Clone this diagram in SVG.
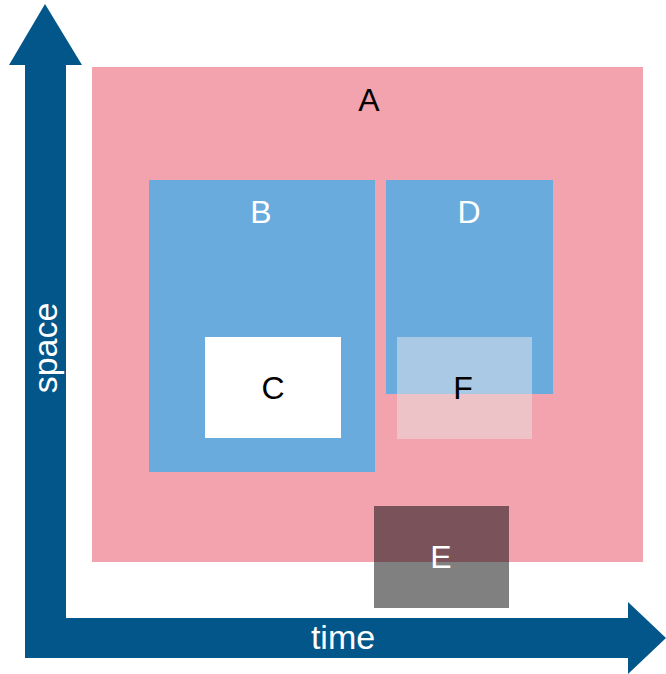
<svg xmlns="http://www.w3.org/2000/svg" width="666" height="674" viewBox="0 0 666 674">
  <style>
    .lbl { font-family: "Liberation Sans", Arial, sans-serif; font-size: 32px; text-anchor: middle; dominant-baseline: central; }
    .ax { font-size: 34px; }
    .dark { fill: #000000; }
    .light { fill: #ffffff; }
    .axis { fill: #02568a; }
  </style>
  <rect width="666" height="674" fill="#ffffff"/>

  <g id="A">
    <rect x="92" y="67" width="551" height="495" fill="#f2a3ae"/>
    <text class="lbl dark" x="369" y="100">A</text>
  </g>

  <g id="B">
    <rect x="149" y="180" width="226" height="292" fill="#6aabdd"/>
    <text class="lbl light" x="261" y="212">B</text>
  </g>

  <g id="C">
    <rect x="205" y="337" width="136" height="101" fill="#ffffff"/>
    <text class="lbl dark" x="273" y="388">C</text>
  </g>

  <g id="D">
    <rect x="386" y="180" width="167" height="214" fill="#6aabdd"/>
    <text class="lbl light" x="469" y="212">D</text>
  </g>

  <g id="F">
    <rect x="397" y="337" width="135" height="57" fill="#aac9e4"/>
    <rect x="397" y="394" width="135" height="45" fill="#edc3c8"/>
    <text class="lbl dark" x="463" y="388">F</text>
  </g>

  <g id="E">
    <rect x="374" y="506" width="135" height="56" fill="#7a525a"/>
    <rect x="374" y="562" width="135" height="46" fill="#808080"/>
    <text class="lbl light" x="441" y="557">E</text>
  </g>

  <g id="axes">
    <polygon class="axis" points="25,658 25,65 9,65 45,4 82,65 66,65 66,618 628,618 628,602 666,638 628,674 628,658"/>
    <text class="lbl ax light" x="343" y="637">time</text>
    <text class="lbl ax light" transform="translate(45,348) rotate(-90)" x="0" y="0">space</text>
  </g>
</svg>
